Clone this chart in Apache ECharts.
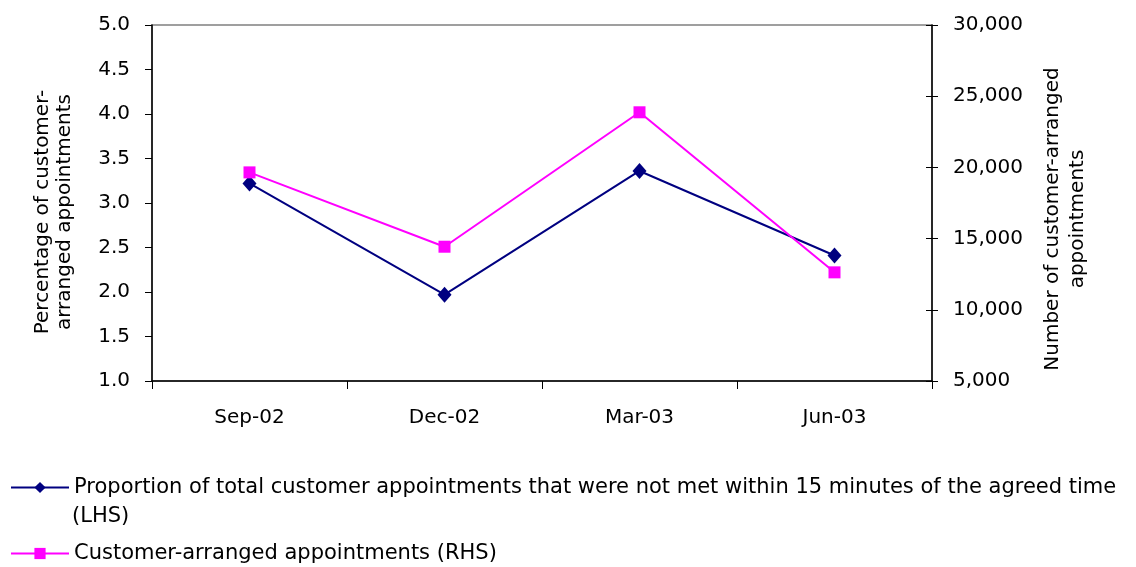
<!DOCTYPE html>
<html>
<head>
<meta charset="utf-8">
<script src="https://cdn.jsdelivr.net/npm/echarts@6/dist/echarts.min.js"></script>
<style>
  html, body { margin: 0; padding: 0; background: #fff; }
  #chart { width: 1136px; height: 567px; }
</style>
</head>
<body>
<div id="chart"></div>
<script>
// Quarterly appointment figures
const quarters = ['Sep-02', 'Dec-02', 'Mar-03', 'Jun-03'];
const notMetPct = [3.22, 1.97, 3.36, 2.41];            // % not met within 15 minutes (LHS)
const customerArranged = [19650, 14430, 23870, 12630]; // number of customer-arranged appointments (RHS)

const seriesNames = [
  'Proportion of total customer appointments that were not met within 15 minutes of the agreed time',
  'Customer-arranged appointments (RHS)'
];

const FONT = '"DejaVu Sans", "Liberation Sans", Arial, sans-serif';
const TXT = { color: '#000', fontFamily: FONT, fontSize: 20 };
const LEGEND_TXT = { color: '#000', fontFamily: FONT, fontSize: 21 };

const chart = echarts.init(document.getElementById('chart'), null, { renderer: 'canvas' });

chart.setOption({
  animation: false,
  backgroundColor: '#fff',
  grid: {
    left: 152, right: 204, top: 25, bottom: 186,
    show: true, borderColor: '#808080', borderWidth: 1.5, backgroundColor: 'transparent'
  },
  xAxis: {
    type: 'category',
    data: quarters,
    boundaryGap: true,
    axisLine: { lineStyle: { color: '#000', width: 1.5 } },
    axisTick: { show: true, length: 8, lineStyle: { color: '#000' } },
    axisLabel: Object.assign({ margin: 27 }, TXT),
    splitLine: { show: false }
  },
  yAxis: [
    {
      type: 'value', position: 'left',
      min: 1, max: 5, interval: 0.5,
      axisLine: { show: true, lineStyle: { color: '#000', width: 1.5 } },
      axisTick: { show: true, length: 7, lineStyle: { color: '#000' } },
      axisLabel: Object.assign({ margin: 22, formatter: v => v.toFixed(1) }, TXT),
      splitLine: { show: false },
      name: 'Percentage of customer-\narranged appointments',
      nameLocation: 'middle', nameRotate: 90, nameGap: 76,
      nameTextStyle: Object.assign({ lineHeight: 22, padding: [0, 18, 0, 0] }, TXT)
    },
    {
      type: 'value', position: 'right',
      min: 5000, max: 30000, interval: 5000,
      axisLine: { show: true, lineStyle: { color: '#000', width: 1.5 } },
      axisTick: { show: true, length: 6, lineStyle: { color: '#000' } },
      axisLabel: Object.assign({ margin: 21, formatter: v => v.toLocaleString('en-US') }, TXT),
      splitLine: { show: false },
      name: 'Number of customer-arranged\nappointments',
      nameLocation: 'middle', nameRotate: 90, nameGap: 108,
      nameTextStyle: Object.assign({ lineHeight: 25, padding: [0, 32, 0, 0] }, TXT)
    },
    {
      // inner half of the crossing ticks on the right-hand axis
      type: 'value', position: 'right',
      min: 5000, max: 30000, interval: 5000,
      axisLine: { show: false },
      axisTick: { show: true, inside: true, length: 6, lineStyle: { color: '#000' } },
      axisLabel: { show: false },
      splitLine: { show: false }
    }
  ],
  legend: [
    {
      left: 10, top: 477, orient: 'vertical', padding: 0,
      itemWidth: 58, itemHeight: 14, itemGap: 0,
      data: [seriesNames[0]],
      textStyle: LEGEND_TXT,
      selectedMode: false
    },
    {
      left: 10, top: 543, orient: 'vertical', padding: 0,
      itemWidth: 58, itemHeight: 14, itemGap: 0,
      data: [seriesNames[1]],
      textStyle: LEGEND_TXT,
      selectedMode: false
    }
  ],
  graphic: [
    {
      type: 'text', left: 72, top: 506,
      style: { text: '(LHS)', fill: '#000', font: '21px ' + FONT }
    }
  ],
  series: [
    {
      name: seriesNames[0],
      type: 'line',
      yAxisIndex: 0,
      data: notMetPct,
      symbol: 'diamond', symbolSize: [14, 16],
      lineStyle: { color: '#000080', width: 2 },
      itemStyle: { color: '#000080' }
    },
    {
      name: seriesNames[1],
      type: 'line',
      yAxisIndex: 1,
      data: customerArranged,
      symbol: 'rect', symbolSize: 12,
      lineStyle: { color: '#FF00FF', width: 2 },
      itemStyle: { color: '#FF00FF' }
    }
  ]
});
</script>
</body>
</html>
